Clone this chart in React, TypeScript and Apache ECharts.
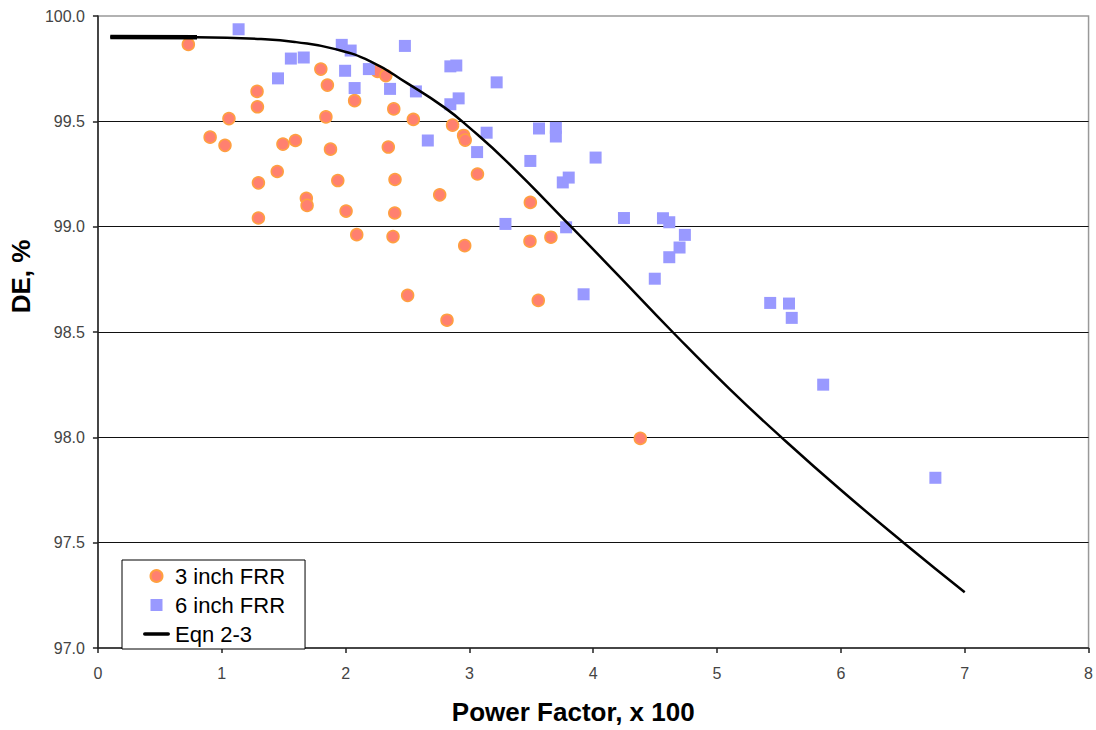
import React, { useEffect, useRef } from "react";
import * as echarts from "echarts";

const FRR3: [number, number][] = [
  [0.73, 99.865], [1.285, 99.642], [1.288, 99.569], [1.058, 99.513], [0.906, 99.425],
  [1.026, 99.386], [1.494, 99.392], [1.595, 99.409], [1.878, 99.368], [1.8, 99.748],
  [1.853, 99.672], [2.073, 99.598], [1.841, 99.521], [1.448, 99.262], [1.296, 99.208],
  [1.683, 99.135], [1.689, 99.101], [1.937, 99.219], [1.296, 99.041], [2.004, 99.074],
  [2.09, 98.962], [2.258, 99.737], [2.325, 99.717], [2.389, 99.559], [2.547, 99.509],
  [2.345, 99.378], [2.399, 99.224], [2.397, 99.065], [2.383, 98.953], [2.864, 99.482],
  [2.953, 99.433], [2.966, 99.411], [3.065, 99.25], [2.76, 99.151], [3.492, 99.115],
  [2.962, 98.91], [3.489, 98.931], [3.658, 98.95], [2.501, 98.674], [2.819, 98.556],
  [3.556, 98.65], [4.38, 97.995],
];

const FRR6: [number, number][] = [
  [1.136, 99.937], [1.558, 99.798], [1.662, 99.803], [1.454, 99.704], [1.969, 99.863],
  [2.041, 99.836], [1.996, 99.74], [2.188, 99.748], [2.073, 99.658], [2.479, 99.858],
  [2.359, 99.654], [2.568, 99.642], [2.846, 99.761], [2.894, 99.765], [3.22, 99.685],
  [2.846, 99.581], [2.913, 99.609], [3.139, 99.446], [2.664, 99.409], [3.062, 99.354],
  [3.562, 99.466], [3.698, 99.469], [3.698, 99.428], [3.492, 99.312], [4.019, 99.328],
  [3.754, 99.21], [3.802, 99.233], [3.291, 99.013], [3.781, 98.997], [4.248, 99.041],
  [4.563, 99.04], [4.614, 99.021], [4.74, 98.961], [4.697, 98.901], [4.614, 98.855],
  [4.497, 98.753], [3.922, 98.679], [5.429, 98.638], [5.581, 98.635], [5.603, 98.567],
  [5.857, 98.25], [6.763, 97.808],
];

const EQN: [number, number][] = [
  [0.1, 99.9], [0.8, 99.899], [1.35, 99.89], [1.6, 99.876], [1.9, 99.845],
  [2.2, 99.785], [2.5, 99.68], [2.8, 99.565], [3.0, 99.47], [3.3, 99.31],
  [3.821, 99.0], [4.2, 98.77], [4.641, 98.5], [5.1, 98.23], [5.52, 98.0],
  [6.0, 97.75], [6.506, 97.5], [7.0, 97.265],
];

const EQN_START: [number, number][] = [
  [0.1, 99.9], [0.8, 99.899],
];

const SERIES_NAMES = ["3 inch FRR", "6 inch FRR", "Eqn 2-3"];
const X_NAME = "Power Factor, x 100";
const Y_NAME = "DE, %";

const FONT = "'Liberation Sans', Arial, sans-serif";

export default function App() {
  const ref = useRef<HTMLDivElement>(null);
  useEffect(() => {
    document.body.style.margin = "0";
    if (!ref.current) return;
    const chart = echarts.init(ref.current, undefined, { renderer: "svg" });
    chart.setOption({
      animation: false,
      backgroundColor: "#fff",
      textStyle: { fontFamily: FONT },
      grid: {
        left: 96,
        right: 2,
        top: 16,
        bottom: 79,
        show: true,
        borderColor: "#999",
        borderWidth: 1.5,
        backgroundColor: "#fff",
      },
      legend: {
        orient: "vertical",
        left: 122,
        top: 560,
        borderColor: "#000",
        borderWidth: 1,
        backgroundColor: "#fff",
        padding: [5, 20, 4, 21],
        itemGap: 7,
        itemWidth: 27,
        itemHeight: 12,
        textStyle: { fontSize: 22, lineHeight: 22, color: "#000", fontFamily: FONT },
        data: [
          { name: SERIES_NAMES[0], icon: "circle" },
          { name: SERIES_NAMES[1], icon: "path://M0,0H10V10H0Z" },
          { name: SERIES_NAMES[2], icon: "path://M2,0H28A2,2 0 0 1 28,4H2A2,2 0 0 1 2,0Z" },
        ],
      },
      xAxis: {
        type: "value",
        min: 0,
        max: 8,
        interval: 1,
        name: X_NAME,
        nameLocation: "middle",
        nameGap: 51,
        nameTextStyle: {
          fontSize: 26,
          fontWeight: "bold",
          color: "#000",
          fontFamily: FONT,
          padding: [0, 40, 0, 0],
        },
        axisLine: { onZero: false, lineStyle: { color: "#222", width: 1.5 } },
        axisTick: { show: true, length: 5, lineStyle: { color: "#222", width: 1.5 } },
        axisLabel: { fontSize: 16, color: "#444", margin: 17, fontFamily: FONT },
        splitLine: { show: false },
      },
      yAxis: {
        type: "value",
        min: 97,
        max: 100,
        interval: 0.5,
        name: Y_NAME,
        nameLocation: "middle",
        nameRotate: 90,
        nameGap: 61,
        nameTextStyle: {
          fontSize: 26,
          fontWeight: "bold",
          color: "#000",
          fontFamily: FONT,
          padding: [0, 0, 0, 111],
        },
        axisLine: { show: true, onZero: false, lineStyle: { color: "#222", width: 1.5 } },
        axisTick: { show: true, length: 5, lineStyle: { color: "#222", width: 1.5 } },
        axisLabel: {
          fontSize: 16,
          color: "#444",
          margin: 13,
          fontFamily: FONT,
          formatter: (v: number) => v.toFixed(1),
        },
        splitLine: {
          show: true,
          showMinLine: false,
          showMaxLine: false,
          lineStyle: { color: "#111", width: 1.2 },
        },
      },
      series: [
        {
          name: SERIES_NAMES[0],
          type: "scatter",
          symbol: "circle",
          symbolSize: 12,
          data: FRR3,
          itemStyle: { color: "#FF8070", borderColor: "#FFA040", borderWidth: 1.5, opacity: 1 },
          z: 2,
        },
        {
          name: SERIES_NAMES[1],
          type: "scatter",
          symbol: "rect",
          symbolSize: 12,
          data: FRR6,
          itemStyle: { color: "#9999FF", opacity: 1 },
          z: 3,
        },
        {
          name: SERIES_NAMES[2],
          type: "line",
          data: EQN,
          smooth: true,
          showSymbol: false,
          symbol: "none",
          lineStyle: { color: "#000", width: 2.5 },
          itemStyle: { color: "#000" },
          z: 4,
        },
        {
          name: "eqn-start",
          type: "line",
          data: EQN_START,
          showSymbol: false,
          symbol: "none",
          lineStyle: { color: "#000", width: 4.5 },
          z: 4,
          silent: true,
        },
      ],
    });
    return () => chart.dispose();
  }, []);
  return <div ref={ref} style={{ width: 1096, height: 730 }} />;
}
